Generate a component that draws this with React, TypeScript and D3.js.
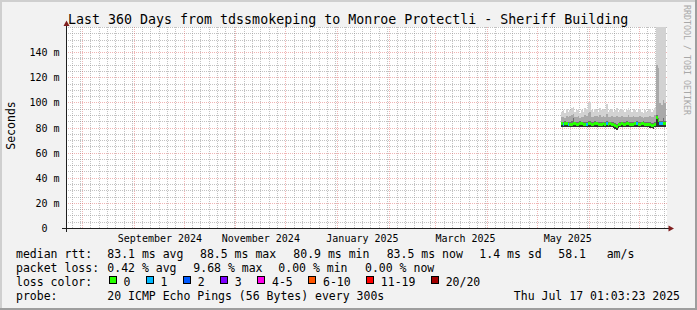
import React from 'react';
import * as d3 from 'd3';

const W = 697;
const H = 310;
const FONT = "'DejaVu Sans Mono', monospace";

// time range
const END = new Date(Date.UTC(2025, 6, 17, 1, 3, 23));
const START = new Date(END.getTime() - 360 * 86400000);
const DATA_START = new Date(Date.UTC(2025, 4, 15));

// axis ticks
const yTicks = [0, 20, 40, 60, 80, 100, 120, 140];
const yTickLabels = ['0  ', '20 m', '40 m', '60 m', '80 m', '100 m', '120 m', '140 m'];
const xLabels = ['September 2024', 'November 2024', 'January 2025', 'March 2025', 'May 2025'];
const xLabelTimes = [
  Date.UTC(2024, 8, 16, 10),
  Date.UTC(2024, 10, 15, 22),
  Date.UTC(2025, 0, 15, 22),
  Date.UTC(2025, 2, 18, 18),
  Date.UTC(2025, 4, 19, 3),
];

// daily series (ms), May 15 .. Jul 16 2025
const medianMs = [
  83.4, 83.0, 83.2, 83.3, 82.9, 83.0, 83.1, 83.6, 83.2, 83.0,
  83.1, 83.3, 83.2, 83.0, 83.1, 82.9, 83.2, 83.4, 83.1, 83.0,
  83.2, 83.3, 83.1, 82.9, 83.0, 83.2, 83.1, 83.3, 83.0, 83.2,
  83.1, 82.8, 82.0, 80.9, 82.4, 83.0, 83.2, 83.1, 83.0, 83.3,
  83.2, 83.1, 82.9, 83.0, 83.2, 83.4, 83.1, 83.0, 83.2, 83.3,
  83.1, 83.0, 82.9, 82.6, 82.2, 81.6, 83.0, 88.5, 86.0, 83.6,
  83.4, 83.8, 83.5,
];
const lossPings = [
  0, 1, 0, 0, 1, 0, 0, 0, 0, 0,
  0, 0, 0, 0, 0, 1, 0, 0, 0, 0,
  0, 0, 0, 0, 0, 0, 0, 1, 0, 0,
  0, 0, 0, 0, 0, 0, 0, 0, 0, 0,
  0, 0, 0, 0, 0, 1, 0, 0, 0, 0,
  0, 0, 0, 0, 0, 0, 0, 0, 0, 1,
  1, 0, 0,
];
const pingMin = [
  80.8, 80.6, 80.9, 80.7, 80.5, 80.6, 80.8, 80.7, 80.9, 80.6,
  80.8, 80.7, 80.9, 80.6, 80.8, 80.5, 80.7, 80.8, 80.6, 80.7,
  80.9, 80.8, 80.6, 80.7, 80.5, 80.8, 80.7, 80.6, 80.8, 80.7,
  80.6, 80.3, 79.5, 78.6, 79.8, 80.6, 80.8, 80.7, 80.6, 80.9,
  80.7, 80.8, 80.6, 80.7, 80.8, 80.6, 80.7, 80.8, 80.7, 80.9,
  80.7, 80.6, 80.5, 80.3, 80.0, 79.4, 80.4, 80.9, 81.0, 80.8,
  80.7, 80.9, 80.8,
];
const pingQ3 = [
  85.0, 84.8, 85.2, 85.0, 84.7, 84.9, 85.3, 88.2, 85.1, 84.9,
  85.0, 85.2, 85.1, 84.8, 85.0, 84.7, 85.3, 85.6, 85.0, 84.9,
  85.2, 85.1, 84.9, 84.8, 85.0, 85.1, 84.9, 85.4, 84.8, 85.0,
  85.1, 84.6, 84.0, 83.0, 84.2, 85.0, 85.1, 85.0, 84.9, 85.2,
  85.1, 85.0, 84.8, 84.9, 85.1, 85.3, 85.0, 84.9, 85.1, 85.2,
  85.0, 84.9, 84.7, 84.5, 84.2, 83.8, 85.0, 90.0, 88.0, 85.6,
  85.4, 88.0, 85.6,
];
const pingP90 = [
  88.5, 89.0, 88.0, 89.5, 88.8, 89.2, 90.0, 91.0, 88.6, 89.0,
  89.5, 88.2, 89.0, 88.8, 90.2, 89.6, 92.0, 92.5, 89.0, 88.6,
  89.8, 89.2, 88.7, 90.5, 89.0, 89.6, 89.0, 91.5, 88.6, 89.0,
  89.4, 88.5, 88.6, 89.5, 88.4, 88.8, 89.6, 89.0, 88.6, 89.0,
  90.2, 89.0, 88.6, 89.4, 89.0, 88.5, 89.0, 89.4, 88.6, 88.2,
  89.0, 88.6, 89.0, 89.6, 88.7, 89.0, 90.5, 130.0, 128.0, 100.0,
  98.0, 102.0, 100.0,
];
const pingMax = [
  93, 94, 92, 95, 93, 94, 96, 97, 93, 94,
  95, 92, 94, 93, 96, 95, 100, 101, 94, 93,
  95, 94, 93, 96, 94, 95, 94, 99, 93, 94,
  95, 93, 94, 96, 93, 94, 95, 94, 93, 94,
  96, 94, 93, 95, 94, 93, 94, 95, 93, 92,
  94, 93, 94, 95, 93, 94, 96, 175, 175, 175,
  175, 175, 175,
];

const lossColors = ['#26ff00', '#00b8ff', '#0059ff', '#7e00ff', '#ff00ea', '#ff5500', '#ff0000', '#a10000'];
const lossLabels = ['0', '1', '2', '3', '4-5', '6-10', '11-19', '20/20'];

const X0 = 66;
const X1 = 666;
const YB = 228.5;
const YT = 27.5;

export default function App() {
  const x = d3.scaleUtc().domain([START, END]).range([X0, X1]);
  const y = d3.scaleLinear().domain([0, 160]).range([YB, YT]);
  const snap = (v: number) => Math.floor(v) + 0.5;

  const rows = medianMs.map((m, i) => ({
    t: d3.utcDay.offset(DATA_START, i),
    m,
    loss: lossPings[i],
    min: pingMin[i],
    q3: pingQ3[i],
    p90: pingP90[i],
    max: pingMax[i],
  }));
  const last = rows[rows.length - 1];
  const rowsExt = [...rows, { ...last, t: END }];

  const band = (lo: (d: any) => number, hi: (d: any) => number) =>
    d3.area<any>().curve(d3.curveStepAfter).x((d) => x(d.t)).y0((d) => y(lo(d))).y1((d) => y(hi(d)))(rowsExt) || '';

  const majorX = d3.utcMonth.range(d3.utcDay.offset(START, 1), END);
  const minorX = d3.utcDay.every(5)!.range(START, END).filter((d) => d.getUTCDate() !== 1);
  const minorY = d3.range(5, 160.01, 5).filter((v) => v % 20 !== 0 || v === 160);

  const minorStroke = 'rgba(143,143,143,0.55)';
  const majorStroke = 'rgba(222,79,79,0.42)';

  const legendX = 16;
  const colX = 107.3;
  const legendFont = 11.5;
  const charW = legendFont * 0.602;

  let lx = 108.5;
  const lossItems = lossColors.map((c, i) => {
    const item = { c, label: lossLabels[i], bx: lx, tx: lx + 15 };
    lx = lx + 15 + lossLabels[i].length * charW + 15.2;
    return item;
  });

  return (
    <svg width={W} height={H} style={{ position: 'absolute', left: 0, top: 0 }} fontFamily={FONT}>
      <defs>
        <clipPath id="plot">
          <rect x={X0} y={YT - 0.5} width={X1 - X0 + 1} height={YB - YT + 0.5} />
        </clipPath>
      </defs>
      {/* background and border */}
      <rect x={0} y={0} width={W} height={H} fill="#f2f2f2" />
      <path d={`M0,0H${W}V2H2V${H}H0Z`} fill="#cfcfcf" />
      <path d={`M${W},${H}H0V${H - 2}H${W - 2}V0H${W}Z`} fill="#9e9e9e" />
      {/* canvas */}
      <rect x={X0} y={YT - 0.5} width={X1 - X0 + 1} height={YB - YT} fill="#ffffff" />

      {/* minor grid */}
      <g stroke={minorStroke} strokeWidth={1} strokeDasharray="1,1" shapeRendering="crispEdges">
        {minorY.map((v) => (
          <line key={'my' + v} x1={X0} x2={X1 + 1} y1={snap(y(v))} y2={snap(y(v))} />
        ))}
        {minorX.map((d) => (
          <line key={'mx' + d.getTime()} x1={snap(x(d))} x2={snap(x(d))} y1={YT - 0.5} y2={YB} />
        ))}
      </g>
      {/* major grid */}
      <g stroke={majorStroke} strokeWidth={1} strokeDasharray="1,1" shapeRendering="crispEdges">
        {yTicks.filter((v) => v > 0).map((v) => (
          <line key={'My' + v} x1={X0} x2={X1 + 1} y1={snap(y(v))} y2={snap(y(v))} />
        ))}
        {majorX.map((d) => (
          <line key={'Mx' + d.getTime()} x1={snap(x(d))} x2={snap(x(d))} y1={YT - 0.5} y2={YB} />
        ))}
      </g>

      {/* smoke */}
      <g clipPath="url(#plot)" shapeRendering="crispEdges">
        <path d={band((d) => d.p90, (d) => d.max)} fill="#d2d2d2" />
        <path d={band((d) => d.q3, (d) => d.p90)} fill="#a9a9a9" />
        <path d={band((d) => d.m, (d) => d.q3)} fill="#6e6e6e" />
        <path d={band((d) => d.min, (d) => d.m)} fill="#333333" />
        {rows.map((d, i) => {
          const xa = x(d.t);
          const xb = x(i + 1 < rows.length ? rows[i + 1].t : END);
          const yc = y(d.m);
          return (
            <rect key={'med' + i} x={xa} y={yc - 1.5} width={xb - xa} height={3}
              fill={lossColors[Math.min(d.loss, 7)]} />
          );
        })}
      </g>

      {/* axes */}
      <g stroke="#1f1f1f" strokeWidth={1} shapeRendering="crispEdges">
        <line x1={62} x2={670} y1={228.5} y2={228.5} />
        <line x1={66.5} x2={66.5} y1={24} y2={232} />
      </g>
      <path d="M66.5,20.5L63.5,26L69.5,26Z" fill="#801f1f" />
      <path d="M674,228.5L668.5,225.5L668.5,231.5Z" fill="#801f1f" />

      {/* y labels */}
      <g fontSize={10} fill="#000" textAnchor="end">
        {yTicks.map((v, i) => (
          <text key={'yl' + v} x={59.5} y={y(v) + 3.6} style={{ whiteSpace: 'pre' }}>
            {yTickLabels[i]}
          </text>
        ))}
      </g>
      {/* x labels */}
      <g fontSize={10} fill="#000" textAnchor="middle">
        {xLabels.map((l, i) => (
          <text key={l} x={x(new Date(xLabelTimes[i]))} y={241.5}>{l}</text>
        ))}
      </g>

      {/* title */}
      <text x={68} y={24} fontSize={13.3} fill="#000">
        Last 360 Days from tdssmokeping to Monroe Protectli - Sheriff Building
      </text>
      {/* vertical label */}
      <text transform="translate(14.5,125.5) rotate(-90)" textAnchor="middle" fontSize={11.5} fill="#000">
        Seconds
      </text>
      {/* watermark */}
      <text transform="translate(684,5) rotate(90)" fontSize={8.3} fill="#a8a8a8">
        RRDTOOL / TOBI OETIKER
      </text>

      {/* legend */}
      <g fontSize={legendFont} fill="#000" style={{ whiteSpace: 'pre' }}>
        <text x={legendX} y={258}>median rtt:</text>
        <text x={colX} y={258}>83.1 ms avg</text>
        <text x={200} y={258}>88.5 ms max</text>
        <text x={293.3} y={258}>80.9 ms min</text>
        <text x={386.7} y={258}>83.5 ms now</text>
        <text x={479.3} y={258}>1.4 ms sd</text>
        <text x={558.3} y={258}>58.1</text>
        <text x={606.7} y={258}>am/s</text>

        <text x={legendX} y={272}>packet loss:</text>
        <text x={colX} y={272}>0.42 % avg</text>
        <text x={193.3} y={272}>9.68 % max</text>
        <text x={278.3} y={272}>0.00 % min</text>
        <text x={365} y={272}>0.00 % now</text>

        <text x={legendX} y={286}>loss color:</text>
        {lossItems.map((it) => (
          <g key={it.label}>
            <rect x={Math.round(it.bx) + 0.5} y={276.5} width={7} height={7} fill={it.c} stroke="#000" strokeWidth={1} />
            <text x={it.tx} y={286}>{it.label}</text>
          </g>
        ))}

        <text x={legendX} y={300}>probe:</text>
        <text x={colX} y={300}>20 ICMP Echo Pings (56 Bytes) every 300s</text>
        <text x={680} y={300} textAnchor="end">Thu Jul 17 01:03:23 2025</text>
      </g>
    </svg>
  );
}
